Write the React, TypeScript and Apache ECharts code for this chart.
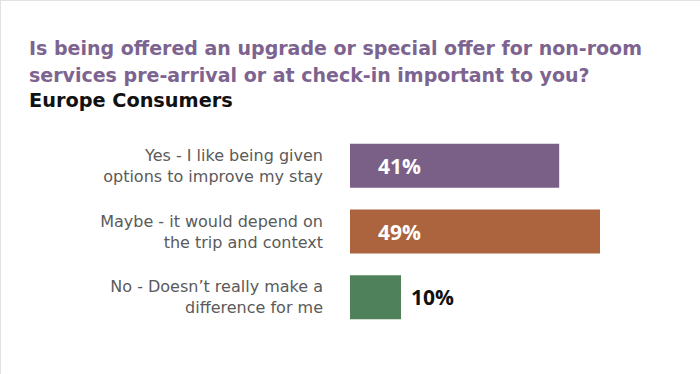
import React, { useEffect, useRef } from "react";
import * as echarts from "echarts";

const categories = [
  "Yes - I like being given\noptions to improve my stay",
  "Maybe - it would depend on\nthe trip and context",
  "No - Doesn\u2019t really make a\ndifference for me",
];
const values = [41, 49, 10];
const barColors = ["#7a5f87", "#ab643d", "#4f815a"];
const titleLines = [
  "Is being offered an upgrade or special offer for non-room",
  "services pre-arrival or at check-in important to you?",
];
const subtitle = "Europe Consumers";

export default function App() {
  const ref = useRef<HTMLDivElement>(null);
  useEffect(() => {
    if (!ref.current) return;
    const chart = echarts.init(ref.current, undefined, { renderer: "svg" });
    const font = "'Open Sans', sans-serif";
    const titleFont = "'DejaVu Sans', sans-serif";
    const titleTops = [37, 64];
    chart.setOption({
      animation: false,
      backgroundColor: "#ffffff",
      title: [
        ...titleLines.map((t, i) => ({
          text: t,
          left: 29,
          top: titleTops[i],
          padding: 0,
          textStyle: {
            color: "#7d6490",
            fontFamily: titleFont,
            fontSize: 19,
            fontWeight: "bold",
            lineHeight: 22,
          },
        })),
        {
          text: subtitle,
          left: 29,
          top: 89,
          padding: 0,
          textStyle: {
            color: "#111111",
            fontFamily: titleFont,
            fontSize: 19.3,
            fontWeight: "bold",
            lineHeight: 22,
          },
        },
      ],
      graphic: [
        { type: "line", shape: { x1: 0, y1: 0.5, x2: 700, y2: 0.5 }, style: { stroke: "#e2e2e2", lineWidth: 1 } },
        { type: "line", shape: { x1: 0.5, y1: 0, x2: 0.5, y2: 374 }, style: { stroke: "#e2e2e2", lineWidth: 1 } },
      ],
      grid: { left: 350, width: 250, top: 133, height: 197 },
      xAxis: {
        type: "value",
        min: 0,
        max: 49,
        show: false,
      },
      yAxis: {
        type: "category",
        data: categories,
        inverse: true,
        axisLine: { show: false },
        axisTick: { show: false },
        axisLabel: {
          margin: 27,
          color: "#5a5a5a",
          fontFamily: "'DejaVu Sans', sans-serif",
          fontSize: 16,
          lineHeight: 21,
          align: "right",
        },
      },
      series: [
        {
          type: "bar",
          barWidth: 44,
          data: values.map((v, i) => ({
            value: v,
            itemStyle: { color: barColors[i] },
            label: v >= 20
              ? { position: "insideLeft", distance: 28, color: "#ffffff" }
              : { position: "right", distance: 10, color: "#111111" },
          })),
          label: {
            show: true,
            formatter: "{c}%",
            fontFamily: font,
            fontSize: 21,
            fontWeight: 700,
          },
        },
      ],
    });
    return () => chart.dispose();
  }, []);
  return (
    <div
      ref={ref}
      style={{ position: "fixed", left: 0, top: 0, width: 700, height: 374 }}
    />
  );
}
